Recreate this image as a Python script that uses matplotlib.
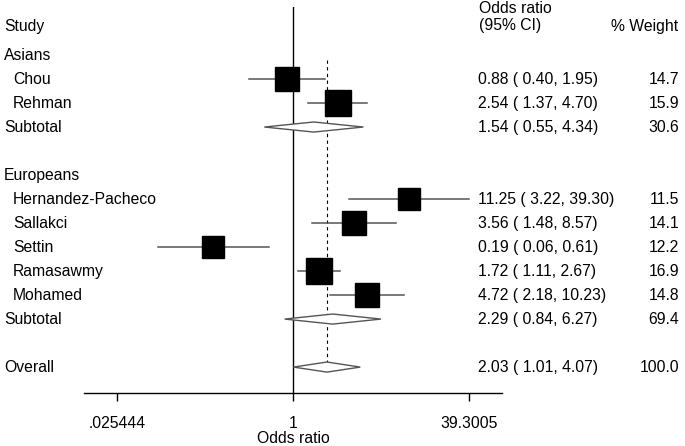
import matplotlib
matplotlib.use('Agg')
import matplotlib.pyplot as plt
from matplotlib.transforms import blended_transform_factory

plt.rcParams['font.family'] = ['Liberation Sans', 'DejaVu Sans']

# study level data
groups = ['Asians', 'Europeans']
studies = ['Chou', 'Rehman', 'Hernandez-Pacheco', 'Sallakci', 'Settin', 'Ramasawmy', 'Mohamed']
study_group = [0, 0, 1, 1, 1, 1, 1]
odds = [0.88, 2.54, 11.25, 3.56, 0.19, 1.72, 4.72]
ci_lo = [0.40, 1.37, 3.22, 1.48, 0.06, 1.11, 2.18]
ci_hi = [1.95, 4.70, 39.30, 8.57, 0.61, 2.67, 10.23]
weight = [14.7, 15.9, 11.5, 14.1, 12.2, 16.9, 14.8]

# subtotals per group + overall
sub_or = [1.54, 2.29]
sub_lo = [0.55, 0.84]
sub_hi = [4.34, 6.27]
sub_w = [30.6, 69.4]
overall = (2.03, 1.01, 4.07, 100.0)

tick_vals = [0.025444, 1, 39.3005]
tick_labels = ['.025444', '1', '39.3005']

W, H = 685, 446
fig = plt.figure(figsize=(W / 100, H / 100), dpi=100)
# axis line at y=393px, top of line of no effect at y=7px
ax = fig.add_axes([84 / W, (H - 393) / H, (502 - 84) / W, (393 - 7) / H])
ax.set_xscale('log')
ax.set_xlim(1 / 78.3, 78.3)
ax.set_ylim(14.08, -2.0)
for s in ['top', 'right', 'left']:
    ax.spines[s].set_visible(False)
ax.spines['bottom'].set_linewidth(1.0)
ax.set_yticks([])
ax.set_xticks(tick_vals)
fs = 11.3
ax.set_xticklabels(tick_labels, fontsize=fs)
ax.minorticks_off()
ax.tick_params(axis='x', direction='out', length=6, width=1, pad=10.5)
ax.set_xlabel('Odds ratio', fontsize=fs, labelpad=0)

ax.axvline(1, color='k', lw=1)

tr = blended_transform_factory(fig.transFigure, ax.transData)


def stats_text(r, e, l, h, w):
    ax.text(478 / W, r, f'{e:.2f} ( {l:.2f}, {h:.2f})', transform=tr,
            fontsize=fs, va='center', ha='left')
    ax.text(679 / W, r, f'{w:.1f}', transform=tr, fontsize=fs, va='center', ha='right')


def diamond(r, e, l, h):
    dh = 0.21
    ax.fill([l, e, h, e, l], [r, r - dh, r, r + dh, r],
            facecolor='white', edgecolor='#555555', lw=1, zorder=3)


# headers
ax.text(4 / W, -1.2, 'Study', transform=tr, fontsize=fs, va='center')
ax.text(479 / W, -1.93, 'Odds ratio', transform=tr, fontsize=fs, va='center')
ax.text(479 / W, -1.22, '(95% CI)', transform=tr, fontsize=fs, va='center')
ax.text(611 / W, -1.2, '% Weight', transform=tr, fontsize=fs, va='center')

row = 0
for g, gname in enumerate(groups):
    ax.text(4 / W, row, gname, transform=tr, fontsize=fs, va='center')
    row += 1
    for i in range(len(studies)):
        if study_group[i] != g:
            continue
        ax.text(13 / W, row, studies[i], transform=tr, fontsize=fs, va='center')
        ax.plot([ci_lo[i], ci_hi[i]], [row, row], color='#555555', lw=1.1, zorder=2)
        ax.plot(odds[i], row, marker='s', color='k', ms=4.6 * weight[i] ** 0.5,
                linestyle='none', zorder=4)
        stats_text(row, odds[i], ci_lo[i], ci_hi[i], weight[i])
        row += 1
    ax.text(4 / W, row, 'Subtotal', transform=tr, fontsize=fs, va='center')
    diamond(row, sub_or[g], sub_lo[g], sub_hi[g])
    stats_text(row, sub_or[g], sub_lo[g], sub_hi[g], sub_w[g])
    row += 2

ax.text(4 / W, row, 'Overall', transform=tr, fontsize=fs, va='center')
diamond(row, overall[0], overall[1], overall[2])
stats_text(row, *overall)

# dashed line at the overall estimate
ax.plot([overall[0], overall[0]], [0.2, row - 0.21], color='k', lw=0.8,
        linestyle=(0, (3, 3)), zorder=1)

fig.savefig('out.png', dpi=100)
